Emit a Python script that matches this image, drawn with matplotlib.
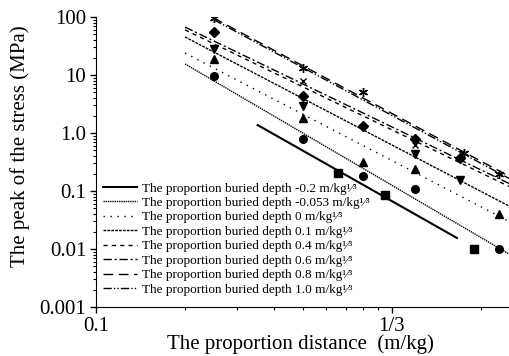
import numpy as np
import matplotlib
matplotlib.use('Agg')
import matplotlib.pyplot as plt
from matplotlib.ticker import FixedLocator, FixedFormatter, LogLocator, NullFormatter

plt.rcParams['font.family'] = ['Liberation Serif', 'DejaVu Serif']

# 拟合直线 (比例埋深) 的起点/终点
depths = ['-0.2', '-0.053', '0', '0.1', '0.4', '0.6', '0.8', '1.0']
line_x0 = [0.352, 0.2, 0.2, 0.2, 0.2, 0.2, 0.25, 0.25]
line_x1 = [1.66, 2.49, 2.49, 2.49, 2.49, 2.49, 2.49, 2.49]
line_y0 = [1.37, 15.5, 23.9, 45.2, 60.0, 67.0, 96.0, 90.0]
line_y1 = [0.0155, 0.0082, 0.030, 0.055, 0.12, 0.135, 0.18, 0.165]
line_styles = ['-', (0, (1, 0.6)), (0, (1, 4)), (0, (2, 0.8)), (0, (3, 3)),
               (0, (6, 2, 1.5, 2)), (0, (7, 4)), (0, (6, 1.5, 1, 1.5, 1, 1.5))]
line_widths = [1.5, 1.0, 1.0, 1.0, 1.0, 1.0, 1.0, 1.0]

# 实测数据点
sq_x = [0.657, 0.947, 1.9]
sq_y = [0.204, 0.085, 0.01]
ci_x = [0.25, 0.5, 0.8, 1.2, 2.3]
ci_y = [9.6, 0.79, 0.18, 0.108, 0.01]
tu_x = [0.25, 0.5, 0.8, 1.2, 2.3]
tu_y = [19.0, 1.81, 0.316, 0.24, 0.040]
td_x = [0.25, 0.5, 1.2, 1.7]
td_y = [28.1, 2.92, 0.434, 0.155]
di_x = [0.25, 0.5, 0.8, 1.2, 1.7]
di_y = [55.0, 4.34, 1.32, 0.79, 0.37]
xm_x = [0.5, 1.2]
xm_y = [7.9, 0.62]
st_x = [0.25, 0.5, 0.8, 1.75, 2.3]
st_y = [96.0, 13.2, 5.1, 0.45, 0.196]

fig = plt.figure(figsize=(5.09, 3.56), dpi=100)
ax = fig.add_axes([96 / 509, 49 / 356, 413 / 509, 290 / 356])

for i, d in enumerate(depths):
    ax.plot([line_x0[i], line_x1[i]], [line_y0[i], line_y1[i]], color='black',
            linestyle=line_styles[i], linewidth=line_widths[i],
            label='The proportion buried depth ' + d + ' m/kg\u00b9\u2044\u00b3')

ms = 5.5
ax.plot(sq_x, sq_y, 's', color='black', ms=ms, ls='none')
ax.plot(ci_x, ci_y, 'o', color='black', ms=ms, ls='none')
ax.plot(tu_x, tu_y, '^', color='black', ms=ms, ls='none')
ax.plot(td_x, td_y, 'v', color='black', ms=ms, ls='none')
ax.plot(di_x, di_y, 'D', color='black', ms=5, ls='none')
ax.plot(xm_x, xm_y, 'x', color='black', ms=5, mew=1.0, ls='none')
ax.plot(st_x, st_y, marker=(6, 2, 0), color='black', ms=6.5, mew=1.0, ls='none')

ax.set_xscale('log')
ax.set_yscale('log')
ax.set_xlim(0.1, 2.49)
ax.set_ylim(0.001, 100)

ax.spines['top'].set_visible(False)
ax.spines['right'].set_visible(False)

ax.xaxis.set_major_locator(FixedLocator([0.1, 1.0]))
ax.xaxis.set_major_formatter(FixedFormatter(['0.1', '1/3']))
ax.xaxis.set_minor_locator(LogLocator(base=10, subs=np.arange(2, 10)))
ax.xaxis.set_minor_formatter(NullFormatter())

ax.yaxis.set_major_locator(FixedLocator([0.001, 0.01, 0.1, 1.0, 10, 100]))
ax.yaxis.set_major_formatter(FixedFormatter(['0.001', '0.01', '0.1', '1.0', '10', '100']))
ax.yaxis.set_minor_locator(LogLocator(base=10, subs=np.arange(2, 10)))
ax.yaxis.set_minor_formatter(NullFormatter())

ax.tick_params(which='major', direction='out', length=4, width=1, labelsize=15, pad=3)
ax.tick_params(which='minor', direction='out', length=2.5, width=0.8)

ax.set_ylabel('The peak of the stress (MPa)', fontsize=15)
ax.yaxis.set_label_coords(-0.16, 0.555)
ax.set_xlabel('The proportion distance  (m/kg)', fontsize=15)
ax.xaxis.set_label_coords(0.494, -0.095)

ax.legend(loc='upper left', bbox_to_anchor=(0.017, 0.43), frameon=False,
          fontsize=9.5, handlelength=2.55, handletextpad=0.38, labelspacing=0.17,
          borderaxespad=0, borderpad=0)

plt.savefig('out.png', dpi=100)
